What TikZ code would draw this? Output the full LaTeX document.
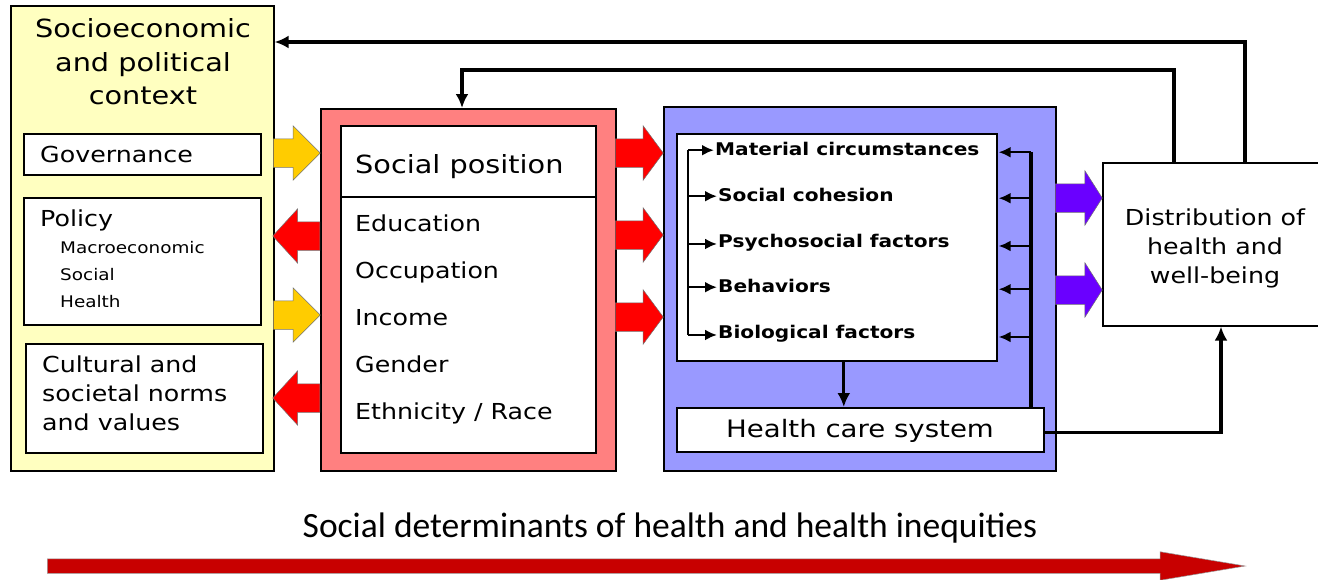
\documentclass[tikz,border=0pt]{standalone}
\usepackage{fontspec}
\setmainfont[FakeStretch=1.15]{DejaVu Sans}
\newfontfamily\capfont{Carlito}
\usetikzlibrary{shapes.arrows,arrows.meta,positioning}

\definecolor{ctxyellow}{HTML}{FFFFC0}
\definecolor{posred}{HTML}{FF8080}
\definecolor{midblue}{HTML}{9999FF}
\definecolor{fatyellow}{HTML}{FFCC00}
\definecolor{fatred}{HTML}{FF0000}
\definecolor{fatviolet}{HTML}{6A00FF}
\definecolor{basered}{HTML}{C80000}

\newcommand\titlefont{\fontsize{25}{33.5}\selectfont}
\newcommand\bodyfont{\fontsize{22}{29}\selectfont}
\newcommand\subfont{\fontsize{16}{20}\selectfont}
\newcommand\factorfont{\bfseries\fontsize{17.5}{21}\selectfont}

\begin{document}
\begin{tikzpicture}[x=1pt,y=-1pt]
        \tikzstyle{panel}=[draw=black, line width=1.6pt, anchor=north west, inner sep=0pt]
        \tikzstyle{txt}=[anchor=mid west, inner sep=0pt, font=\bodyfont, yshift=-5pt]
        \tikzstyle{fat}=[single arrow, draw=black!55, line width=0.5pt, inner xsep=0pt, inner ysep=14pt, single arrow head extend=13, anchor=tail]
        \tikzstyle{feed}=[line width=3.2pt, -{Latex[length=14pt,width=13pt]}]
        \tikzstyle{tick}=[line width=2.4pt, -{Latex[length=12pt,width=11pt]}, shorten >=1pt]
        \useasboundingbox (0,0) rectangle (1318,579);
        % context column
        \node[panel, fill=ctxyellow, minimum width=263, minimum height=465] (ctx) at (10,5) {};
        \node[txt, font=\titlefont, align=center, anchor=center] (ctxtitle) at (143,57) {Socioeconomic\\and political\\context};
        \node[panel, fill=white, minimum width=237, minimum height=41] (gov) at (23,133) {};
        \node[txt] (govtxt) at (40,155) {Governance};
        \node[panel, fill=white, minimum width=237, minimum height=127] (pol) at (23,197) {};
        \node[txt] (poltxt) at (40,219) {Policy};
        \node[txt, font=\subfont, yshift=2pt] (macro) at (60,248) {Macroeconomic};
        \node[txt, font=\subfont, yshift=2pt] (social) at (60,275) {Social};
        \node[txt, font=\subfont, yshift=2pt] (health) at (60,302) {Health};
        \node[panel, fill=white, minimum width=237, minimum height=109] (cul) at (25,343) {};
        \node[txt, align=left, anchor=west, yshift=3pt] (cultxt) at (42,391) {Cultural and\\societal norms\\and values};
        % social position
        \node[panel, fill=posred, minimum width=295, minimum height=362] (pos) at (320,108) {};
        \node[panel, fill=white, minimum width=255, minimum height=327] (posin) at (340,125) {};
        \coordinate (divl) at (340,197);
        \draw[line width=1.6pt] (divl) -- (divl -| posin.east);
        \node[txt, font=\titlefont] (postitle) at (355,166) {Social position};
        \node[txt] (edu) at (355,224) {Education};
        \node[txt] (occ) at (355,271) {Occupation};
        \node[txt] (inc) at (355,318) {Income};
        \node[txt] (gen) at (355,365) {Gender};
        \node[txt] (eth) at (355,412) {Ethnicity / Race};
        % intermediary factors
        \node[panel, fill=midblue, minimum width=392, minimum height=364] (mid) at (663,106) {};
        \node[panel, fill=white, minimum width=320, minimum height=227] (fac) at (676,133) {};
        \node[txt, font=\factorfont] (mat) at (715,148) {Material circumstances};
        \node[txt, font=\factorfont] (coh) at (718,194) {Social cohesion};
        \node[txt, font=\factorfont] (psy) at (718,240) {Psychosocial factors};
        \node[txt, font=\factorfont] (beh) at (718,285) {Behaviors};
        \node[txt, font=\factorfont] (bio) at (718,331) {Biological factors};
        \node[panel, fill=white, minimum width=367, minimum height=44] (hcs) at (676,407) {};
        \node[font=\fontsize{24}{28}\selectfont, inner sep=0pt] (hcstxt) at (860,431) {Health care system};
        % outcome
        \node[panel, fill=white, minimum width=222, minimum height=163] (dist) at (1102,162) {};
        \node[font=\bodyfont, align=center, inner sep=0pt] (disttxt) at (1215,248) {Distribution of\\health and\\well-being};
        % block arrows
        \node[fat, fill=fatyellow, minimum height=47, single arrow tip angle=90] (ya1) at (273,153) {};
        \node[fat, fill=fatyellow, minimum height=47, single arrow tip angle=90] (ya2) at (273,315) {};
        \node[fat, fill=fatred, minimum height=47, single arrow tip angle=95, shape border rotate=180] (ra1) at (320,236) {};
        \node[fat, fill=fatred, minimum height=47, single arrow tip angle=95, shape border rotate=180] (ra2) at (320,398) {};
        \node[fat, fill=fatred, minimum height=48, single arrow tip angle=107] (rb1) at (615,153) {};
        \node[fat, fill=fatred, minimum height=48, single arrow tip angle=107] (rb2) at (615,235) {};
        \node[fat, fill=fatred, minimum height=48, single arrow tip angle=107] (rb3) at (615,317) {};
        \node[fat, fill=fatviolet, minimum height=47, single arrow tip angle=115] (va1) at (1055,198) {};
        \node[fat, fill=fatviolet, minimum height=47, single arrow tip angle=115] (va2) at (1055,290) {};
        % thin connectors
        \coordinate (lbr) at (688,0);
        \coordinate (rbr) at (1031,0);
        \draw[line width=2.4pt] ([yshift=-1pt]lbr |- mat.west) -- ([yshift=-1pt]lbr |- bio.west);
        \draw[line width=3.2pt] ([yshift=-3pt]rbr |- mat.west) -- (rbr |- hcs.north);
        \foreach \n in {mat,coh,psy,beh,bio}{
            \draw[tick] ([yshift=-1pt]lbr |- \n.west) -- ([yshift=-1pt]\n.west);
            \draw[tick] ([yshift=-3pt]rbr |- \n.west) -- ([yshift=-3pt]fac.east |- \n.west);
        }
        \draw[feed] ([xshift=7pt]fac.south) -- ([xshift=7pt]fac.south |- hcs.north);
        \coordinate (hd) at (1221,0);
        \draw[feed] ([yshift=-3pt]hcs.east) -| (dist.south -| hd);
        \coordinate (fb1) at (1245,42);
        \coordinate (fb2) at (1174,70);
        \coordinate (fb2c) at (462,70);
        \draw[feed] (dist.north -| fb1) |- (ctx.east |- fb1);
        \draw[feed] (dist.north -| fb2) |- (fb2c) -- (pos.north -| fb2c);
        % bottom caption
        \node[font=\capfont\fontsize{35.5}{40}\selectfont, inner sep=0pt] (captxt) at (670,528) {Social determinants of health and health inequities};
        \node[fat, fill=basered, draw=black!40, minimum height=1198, inner ysep=7pt, single arrow head extend=7, single arrow tip angle=19] (base) at (47,566) {};
    \end{tikzpicture}
\end{document}
